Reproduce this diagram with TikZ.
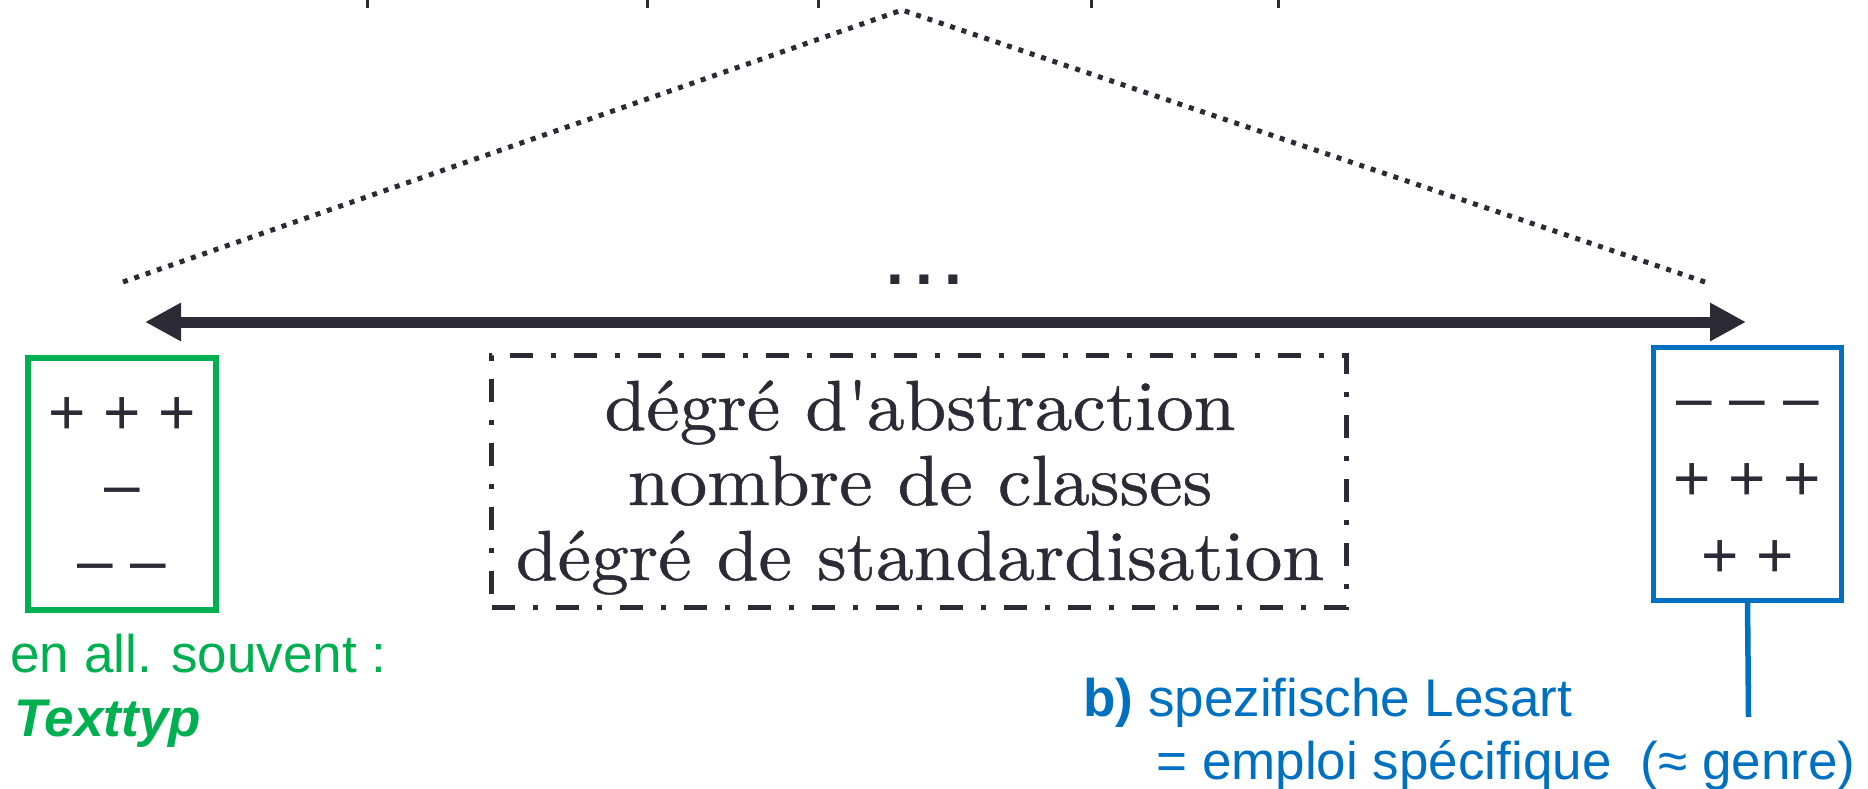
\documentclass[tikz,border=0pt]{standalone}
\usepackage{fontspec}
\newfontfamily\arialf{Liberation Sans}
\newfontfamily\ctfont{lmroman10-regular}[Extension=.otf, FakeStretch=1.06, FakeBold=0.6]
\usetikzlibrary{arrows.meta}
\definecolor{ink}{RGB}{43,42,53}
\definecolor{gr}{RGB}{0,176,80}
\definecolor{bl}{RGB}{0,112,192}
\begin{document}
\begin{tikzpicture}[x=0.5pt,y=-0.5pt,
 frame/.style={draw, outer sep=0pt, inner sep=0pt},
 sym/.style={anchor=base, inner sep=0pt, text=ink, font=\arialf\fontsize{32pt}{38pt}\selectfont},
 lbl/.style={anchor=base west, inner sep=0pt, font=\arialf\fontsize{26.5pt}{32pt}\selectfont},
 ctext/.style={anchor=base, inner sep=0pt, text=ink, font=\ctfont\fontsize{35.5pt}{37.5pt}\selectfont},
 dotline/.style={draw=ink, line width=2.5pt, dash pattern=on 2.5pt off 3.5pt},
 tick/.style={draw=ink, line width=1.5pt},
 scale arrow/.style={draw=ink, line width=5.5pt, {Triangle[length=18pt,width=18pt]}-{Triangle[length=18pt,width=18pt]}},
]
\useasboundingbox (0,0) rectangle (1868,788);
% ticks of the tree above
\foreach \x [count=\i] in {367,647,818,1091,1278}{
  \coordinate (ta\i) at (\x,0);
  \coordinate (tb\i) at (\x,8);
  \draw[tick] (ta\i) -- (tb\i);
}
% dotted triangle
\coordinate (apex) at (902,10);
\coordinate (dl) at (123,282);
\coordinate (dr) at (1705,282);
\draw[dotline] (dl) -- (apex) -- (dr);
\node[inner sep=0pt, anchor=base, text=ink, font=\arialf\bfseries\fontsize{32pt}{38pt}\selectfont] (dots) at (924.5,284) {.\hspace{5.6pt}.\hspace{5.6pt}.};
% double arrow
\coordinate (aL) at (145,322);
\coordinate (aR) at (1746,322);
\draw[scale arrow] (aL) -- (aR);
% left green box
\node[frame, draw=gr, line width=3pt, minimum width=94pt, minimum height=126pt] (gbox) at (122,484) {};
\node[sym] (g1) at (122,434) {+ + +};
\node[sym] (g2) at (122,506) {–};
\node[sym] (g3) at (122,582) {– –};
\node[lbl, text=gr] (gl1) at (10,672) {en all. souvent :};
\node[lbl, text=gr, font=\arialf\bfseries\itshape\fontsize{26.5pt}{32pt}\selectfont] (gl2) at (14,736) {Texttyp};
% central dash-dot box
\node[frame, draw=ink, line width=2.5pt, minimum width=427.25pt, minimum height=126pt,
      dash pattern=on 11.5pt off 9pt on 2.5pt off 9pt] (cbox) at (918.75,481.5) {};
\node[ctext] (c1) at (920,430) {dégré d\textquotesingle abstraction};
\node[ctext] (c2) at (920,505) {nombre de classes};
\node[ctext] (c3) at (920,580) {dégré de standardisation};
% right blue box
\node[frame, draw=bl, line width=2.5pt, minimum width=94pt, minimum height=126.5pt] (bbox) at (1747.5,474) {};
\node[sym] (b1) at (1747.5,419) {– – –};
\node[sym] (b2) at (1747.5,500) {+ + +};
\node[sym] (b3) at (1747.5,577) {+ +};
\coordinate (bend) at (1748.5,717);
\draw[bl, line width=2.75pt] (bbox.south) -- (bend);
\node[lbl, text=bl] (bl1) at (1083,716) {\textbf{b)} spezifische Lesart};
\node[lbl, text=bl] (bl2) at (1156,779) {= emploi spécifique\ \ (≈ genre)};
\end{tikzpicture}
\end{document}
